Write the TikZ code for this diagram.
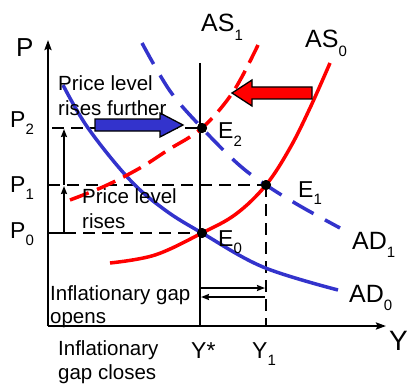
\documentclass[tikz,border=0pt]{standalone}
\usepackage{fontspec}
\setmainfont{Liberation Sans}
\usetikzlibrary{arrows.meta}
\definecolor{adblue}{RGB}{51,51,204}
\definecolor{asred}{RGB}{255,0,0}
\newcommand{\lowsub}[1]{\raisebox{-0.33em}{\fontsize{15}{15}\selectfont #1}}
\begin{document}
\begin{tikzpicture}[x=1pt,y=-1pt,
  axisline/.style={line width=2.2pt,-{Stealth[length=10pt,width=7pt,inset=1.5pt]}},
  yline/.style={line width=2.2pt},
  guide/.style={line width=1.4pt,dash pattern=on 12pt off 7pt},
  smallarrow/.style={line width=1.8pt,-{Stealth[length=8pt,width=6pt,inset=1pt]}},
  adsolid/.style={adblue,line width=3.5pt},
  addash/.style={adblue,line width=3.5pt,dash pattern=on 24pt off 13pt},
  assolid/.style={asred,line width=3.5pt},
  asdash/.style={asred,line width=3.5pt,dash pattern=on 20pt off 9pt},
  dot/.style={circle,fill=black,inner sep=0pt,minimum size=10pt},
  txt/.style={font=\fontsize{20.5}{24}\selectfont,inner sep=0pt,anchor=base west},
  lbl/.style={font=\fontsize{23}{26}\selectfont,inner sep=0pt,anchor=base west},
  biglbl/.style={font=\fontsize{25}{28}\selectfont,inner sep=0pt,anchor=base west},
  fatarrow/.style={draw=black,line width=1.3pt,line join=miter}
]
\useasboundingbox (0,0) rectangle (409,385);

% axes
\coordinate (O) at (48,326);
\coordinate (Ptop) at (48,40);
\coordinate (Yend) at (386,326);
\draw[axisline] (O) -- (Ptop);
\draw[axisline] (O) -- (Yend);

% Y* vertical line
\coordinate (Ystartop) at (200,63);
\coordinate (Ystarbot) at (200,326);
\draw[yline] (Ystartop) -- (Ystarbot);

% equilibrium points
\node[dot] (E2) at (202,128) {};
\node[dot] (E1) at (266,185) {};
\node[dot] (E0) at (202,233) {};

% guide lines
\coordinate (P2l) at (52,128);
\coordinate (P1l) at (48,185);
\coordinate (P0a) at (48,233);
\coordinate (P0b) at (64,233);
\coordinate (Y1b) at (266,326);
\draw[guide] (P2l) -- (E2.center);
\draw[guide] (P1l) -- (E1.center);
\draw[guide] (P0b) -- (E0.center);
\draw[guide] (E1.center) -- (Y1b);

% vertical price arrows
\coordinate (A1) at (64,186);
\coordinate (A2s) at (64,185);
\coordinate (A2) at (64,129);
\draw[smallarrow] (P0a) -- (P0b) -- (A1);
\draw[smallarrow] (A2s) -- (A2);

% horizontal gap arrows
\coordinate (G1a) at (200,288);
\coordinate (G1b) at (265,288);
\coordinate (G2a) at (265,297);
\coordinate (G2b) at (201,297);
\draw[smallarrow] (G1a) -- (G1b);
\draw[smallarrow] (G2a) -- (G2b);

% AD curves
\draw[adsolid] plot[smooth,tension=0.6] coordinates {(63,85) (88,128) (130,180) (165,210) (202,233) (263,267) (338,290)};
\draw[addash] plot[smooth,tension=0.6] coordinates {(142,43) (170,91) (202,128) (238,164) (266,185) (300,206) (340,228)};

% AS curves
\draw[assolid] plot[smooth,tension=0.6] coordinates {(110,263) (155,255) (202,233) (236,214) (266,185) (290,148) (310,108) (330,63)};
\draw[asdash] plot[smooth,tension=0.6] coordinates {(70,200) (105,186) (140,168) (168,150) (202,128) (233,92) (258,45)};

% redraw dots on top
\node[dot] at (E2) {};
\node[dot] at (E1) {};
\node[dot] at (E0) {};

% fat arrows
\draw[fatarrow,fill=adblue] (95,119) -- (160,119) -- (160,113) -- (183,125) -- (160,137) -- (160,131) -- (95,131) -- cycle;
\draw[fatarrow,fill=asred] (312,87) -- (252,87) -- (252,80) -- (232,93) -- (252,106) -- (252,99) -- (312,99) -- cycle;

% axis labels
\node[font=\fontsize{26}{28}\selectfont,inner sep=0pt,anchor=base west] (Plab) at (16,57) {P};
\node[font=\fontsize{28}{30}\selectfont,inner sep=0pt,anchor=base west] (Ylab) at (389,350) {Y};
\node[lbl] (P2lab) at (10,127) {P\lowsub{2}};
\node[lbl] (P1lab) at (10,192) {P\lowsub{1}};
\node[lbl] (P0lab) at (10,238) {P\lowsub{0}};
\node[lbl] (Ystar) at (191,358) {Y*};
\node[lbl] (Y1lab) at (252,358) {Y\lowsub{1}};

% curve labels
\node[biglbl] (AS1lab) at (201,32) {AS\lowsub{1}};
\node[biglbl] (AS0lab) at (305,48) {AS\lowsub{0}};
\node[biglbl] (AD1lab) at (352,249) {AD\lowsub{1}};
\node[biglbl] (AD0lab) at (349,302) {AD\lowsub{0}};
\node[lbl] (E2lab) at (218,139) {E\lowsub{2}};
\node[lbl] (E1lab) at (298,197) {E\lowsub{1}};
\node[lbl] (E0lab) at (218,246) {E\lowsub{0}};

% texts
\node[txt] (t1a) at (58,91) {Price level};
\node[txt] (t1b) at (58,115) {rises further};
\node[txt] (t2a) at (82,203) {Price level};
\node[txt] (t2b) at (82,228) {rises};
\node[txt] (t3a) at (50,300) {Inflationary gap};
\node[txt] (t3b) at (50,323) {opens};
\node[txt] (t4a) at (58,355) {Inflationary};
\node[txt] (t4b) at (58,379) {gap closes};
\end{tikzpicture}
\end{document}
